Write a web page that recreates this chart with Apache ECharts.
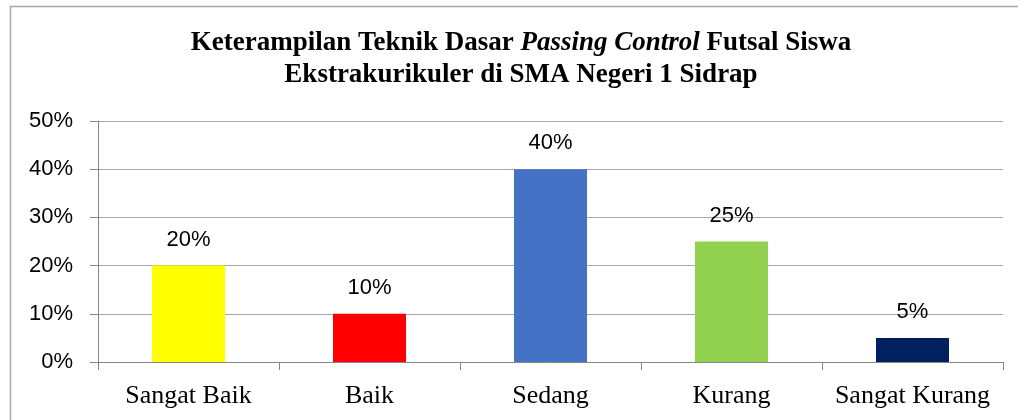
<!DOCTYPE html>
<html>
<head>
<meta charset="utf-8">
<script src="https://cdn.jsdelivr.net/npm/echarts@6/dist/echarts.min.js"></script>
<style>
  html, body { margin: 0; padding: 0; background: #fff; }
  #chart { width: 1018px; height: 420px; }
</style>
</head>
<body>
<div id="chart"></div>
<script>
const categories = ['Sangat Baik', 'Baik', 'Sedang', 'Kurang', 'Sangat Kurang']
const percentages = [20, 10, 40, 25, 5]
const barColors = ['#FFFF00', '#FF0000', '#4472C4', '#92D050', '#002060']

const chart = echarts.init(document.getElementById('chart'))

chart.setOption({
  animation: false,
  title: {
    left: 521,
    top: 27,
    textAlign: 'center',
    padding: 0,
    text: '{b|Keterampilan Teknik Dasar }{i|Passing Control}{b| Futsal Siswa}\n{b|Ekstrakurikuler di SMA Negeri 1 Sidrap}',
    textStyle: {
      rich: {
        b: { fontFamily: 'Liberation Serif', fontWeight: 'bold', fontSize: 27, color: '#000', lineHeight: 32 },
        i: { fontFamily: 'Liberation Serif', fontWeight: 'bold', fontStyle: 'italic', fontSize: 27, color: '#000', lineHeight: 32 },
      },
    },
  },
  graphic: [
    {
      type: 'rect',
      shape: { x: 10.5, y: 6.5, width: 1030, height: 430 },
      style: { fill: 'none', stroke: '#a6a6a6', lineWidth: 1.5 },
      silent: true,
    },
  ],
  grid: { left: 98, right: 15, top: 121, bottom: 58 },
  xAxis: {
    type: 'category',
    data: categories,
    axisLine: { lineStyle: { color: '#868686', width: 1 } },
    axisTick: { show: true, length: 8, interval: 0, lineStyle: { color: '#868686' } },
    axisLabel: { interval: 0, fontFamily: 'Liberation Serif', fontSize: 26, color: '#000', margin: 21 },
  },
  yAxis: {
    type: 'value',
    min: 0,
    max: 50,
    interval: 10,
    axisLine: { show: true, lineStyle: { color: '#868686', width: 1 } },
    axisTick: { show: true, length: 8, lineStyle: { color: '#868686' } },
    splitLine: { lineStyle: { color: '#a6a6a6', width: 1 } },
    axisLabel: {
      formatter: '{value}%',
      fontFamily: 'Liberation Sans',
      fontSize: 22,
      color: '#000',
      margin: 25,
    },
  },
  series: [
    {
      type: 'bar',
      data: percentages.map((v, i) => ({ value: v, itemStyle: { color: barColors[i] } })),
      barWidth: 73,
      label: {
        show: true,
        position: 'top',
        distance: 15,
        formatter: '{c}%',
        fontFamily: 'Liberation Sans',
        fontSize: 22,
        color: '#000',
      },
    },
  ],
})
</script>
</body>
</html>
